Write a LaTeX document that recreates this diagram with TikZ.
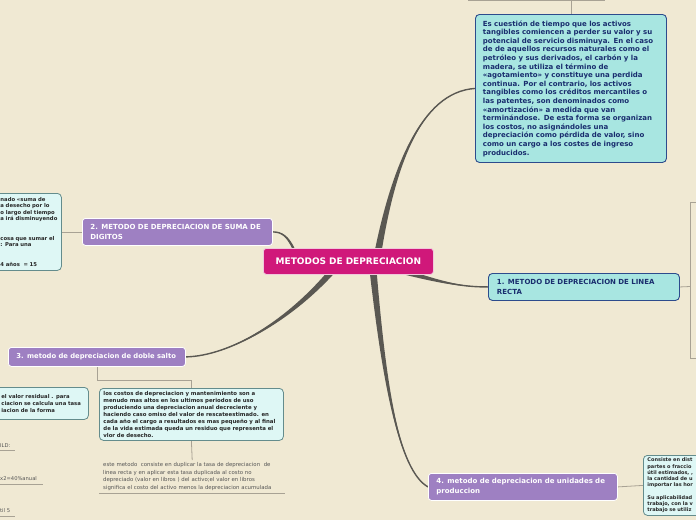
\documentclass[tikz,border=0pt]{standalone}
\usepackage{fontspec}
\setmainfont{DejaVu Sans}
\usetikzlibrary{calc}
\definecolor{cbg}{RGB}{240,233,211}
\definecolor{cmag}{RGB}{208,24,122}
\definecolor{cmagb}{RGB}{240,200,220}
\definecolor{cpur}{RGB}{158,128,194}
\definecolor{ccya}{RGB}{168,230,225}
\definecolor{cnav}{RGB}{45,75,140}
\definecolor{ctxt}{RGB}{25,45,110}
\definecolor{clit}{RGB}{222,247,245}
\definecolor{clitb}{RGB}{100,140,140}
\definecolor{cconn}{RGB}{90,88,82}
\definecolor{cthin}{RGB}{168,162,148}
\definecolor{cgray}{RGB}{85,85,85}
\pgfdeclarelayer{connlayer}
\pgfsetlayers{connlayer,main}
\newcommand\fsz[2]{\fontsize{#1}{#2}\selectfont}
\newcommand\taper[5]{%
  \fill[connfill] ($#1+#5$) .. controls ($#2+0.5*#5$) and #3 .. #4 .. controls #3 and ($#2-0.5*#5$) .. ($#1-#5$) -- cycle;
  \draw[connline] #1 .. controls #2 and #3 .. #4;}
\begin{document}
\begin{tikzpicture}[x=1pt,y=-1pt,
  boxbase/.style={rectangle, anchor=north west, inner ysep=0pt, align=left},
  magbox/.style={boxbase, fill=cmag, draw=cmagb, line width=0.8pt, rounded corners=3pt, text=white},
  purbox/.style={boxbase, fill=cpur, draw=white, line width=0.8pt, rounded corners=3pt, text=white},
  cyabox/.style={boxbase, fill=ccya, draw=cnav, line width=0.9pt, rounded corners=4pt, text=ctxt},
  litbox/.style={boxbase, fill=clit, draw=clitb, line width=0.8pt, rounded corners=4pt, text=black!85},
  thinline/.style={draw=cthin, line width=0.8pt},
  connfill/.style={fill=cconn},
  connline/.style={draw=cconn, line width=1.4pt, line cap=round},
  lbl/.style={anchor=base west, inner sep=0pt, font=\fsz{5.2}{6}, text=cgray}
]
\begin{pgfonlayer}{connlayer}
\fill[cbg] (0,0) rectangle (696,520);
\end{pgfonlayer}
\useasboundingbox (0,0) rectangle (696,520);

% ---------- boxes ----------
\node[magbox, minimum width=170pt, minimum height=26pt, text width=160pt, align=center,
      font=\fsz{9}{11}\bfseries] (center) at (263,248) {METODOS DE DEPRECIACION};

\node[cyabox, minimum width=191pt, minimum height=148pt, text width=176pt, inner xsep=0pt,
      font=\fsz{7}{8.6}\bfseries] (topbox) at (475,14) {Es cuestión de tiempo que los activos\\
tangibles comiencen a perder su valor y su\\
potencial de servicio disminuya. En el caso\\
de de aquellos recursos naturales como el\\
petróleo y sus derivados, el carbón y la\\
madera, se utiliza el término de\\
«agotamiento» y constituye una perdida\\
continua. Por el contrario, los activos\\
tangibles como los créditos mercantiles o\\
las patentes, son denominados como\\
«amortización» a medida que van\\
terminándose. De esta forma se organizan\\
los costos, no asignándoles una\\
depreciación como pérdida de valor, sino\\
como un cargo a los costes de ingreso\\
producidos.};

\node[cyabox, minimum width=191pt, minimum height=27pt, text width=174pt, inner xsep=0pt,
      font=\fsz{7}{10}\bfseries] (node1) at (488,273) {1. METODO DE DEPRECIACION DE LINEA\\RECTA};

\node[purbox, minimum width=189pt, minimum height=27pt, text width=173pt, inner xsep=0pt,
      font=\fsz{7}{10}\bfseries] (node4) at (428,473) {4. metodo de depreciacion de unidades de\\produccion};

\node[litbox, minimum width=70pt, minimum height=60pt, text width=70pt, inner xsep=0pt,
      font=\fsz{5}{6.2}\bfseries] (box4) at (643,455) {\leftskip=4pt\relax Consiste en dist\\
partes o fraccio\\
útil estimados, ,\\
la cantidad de u\\
importar las hor\\
\mbox{}\\
Su aplicabilidad\\
trabajo, con la v\\
trabajo se utiliz\par};

\node[purbox, minimum width=190pt, minimum height=27pt, text width=174pt, inner xsep=0pt,
      font=\fsz{7}{10}\bfseries] (node2) at (82,218) {2. METODO DE DEPRECIACION DE SUMA DE\\DIGITOS};

\node[litbox, minimum width=91pt, minimum height=77pt, text width=91pt, inner xsep=0pt,
      font=\fsz{5.3}{6.5}\bfseries] (box2) at (-30,193) {\leftskip=30pt\relax nado «suma de\\
a desecho por lo\\
o largo del tiempo\\
a irá disminuyendo\\
\mbox{}\\
\mbox{}\\
cosa que sumar el\\
: Para una\\
\mbox{}\\
\mbox{}\\
4 años\ \ = 15\par};

\node[purbox, minimum width=177pt, minimum height=19pt, text width=161pt, inner xsep=0pt,
      font=\fsz{6.8}{9}\bfseries] (node3) at (8,347) {3. metodo de depreciacion de doble salto};

\node[litbox, minimum width=118pt, minimum height=32pt, text width=118pt, inner xsep=0pt,
      font=\fsz{5.3}{7}\bfseries] (boxA) at (-30,387) {\leftskip=31pt\relax el valor residual . para\\
ciacion se calcula una tasa\\
iacion de la forma\par};

\node[litbox, minimum width=184pt, minimum height=52pt, text width=176pt, inner xsep=0pt,
      font=\fsz{5.4}{7}\bfseries] (boxB) at (99,388) {los costos de depreciacion y mantenimiento son a\\
menudo mas altos en los ultimos periodos de uso\\
produciendo una depreciacion anual decreciente y\\
haciendo caso omiso del valor de rescateestimado. en\\
cada año el cargo a resultados es mas pequeño y al final\\
de la vida estimada queda un residuo que representa el\\
vlor de desecho.};

\node[boxbase, minimum width=186pt, minimum height=33pt, text width=178pt, inner xsep=0pt,
      font=\fsz{5.4}{7.5}, text=cgray] (textC) at (99,460) {este metodo\ \ consiste en duplicar la tasa de depreciacion\ \ de\\
linea recta y en aplicar esta tasa duplicada al costo no\\
depreciado (valor en libros ) del activo;el valor en libros\\
significa el costo del activo menos la depreciacion acumulada};

\node[lbl] (l1) at (0,447) {ILD:};
\node[lbl] (l2) at (0,480) {x2=40\%anual};
\node[lbl] (l3) at (0,512) {til 5};

% ---------- coordinates ----------
\coordinate (tA) at (571,0);
\coordinate (rj) at (690,286.5);
\coordinate (rt) at (696,202);
\coordinate (rb) at (696,358);
\coordinate (s1) at ($(center.north west)+(115,4)$);
\coordinate (s2) at ($(center.north west)+(135,22)$);
\coordinate (s3) at ($(center.north west)+(110,22)$);
\coordinate (s4) at ($(center.north west)+(32,4)$);
\coordinate (s5) at ($(center.north west)+(70,22)$);
\begin{pgfonlayer}{connlayer}
\draw[thinline] (468,0.5) -- (605,0.5);
\draw[thinline] (tA) -- (tA |- topbox.north);
\draw[thinline] (node1.east) -- (rj);
\draw[thinline] (rt) -- (rt -| rj) -- (rb -| rj) -- (rb);
\draw[thinline] (node4.east) -- (box4.west);
\draw[thinline] (box2.east) -- (node2.west);
\draw[thinline] (node3.south) -- ($(node3.south)+(0,14)$) -| (boxB.north);
\draw[thinline] (boxB.south) -- (textC.north);
\draw[thinline] (textC.south west) -- (textC.south east);
\draw[thinline] ($(l1.base west)+(0,3.5)$) -- ++(15,0);
\draw[thinline] ($(l2.base west)+(0,4)$) -- ++(43,0);
\draw[thinline] ($(l3.base west)+(0,4)$) -- ++(15,0);
% thick tapered connectors
\taper{(s1)}{(393,170)}{(420,92)}{(topbox.west)}{(3.5,0)}
\taper{(s2)}{(440,282)}{(460,287)}{(node1.west)}{(0,3)}
\taper{(s3)}{(384,380)}{(398,470)}{(node4.west)}{(3.5,0)}
\taper{(s4)}{(288,236)}{(282,232)}{(node2.east)}{(0,3)}
\taper{(s5)}{(290,320)}{(230,356)}{(node3.east)}{(2,2.5)}
\end{pgfonlayer}
\end{tikzpicture}
\end{document}
